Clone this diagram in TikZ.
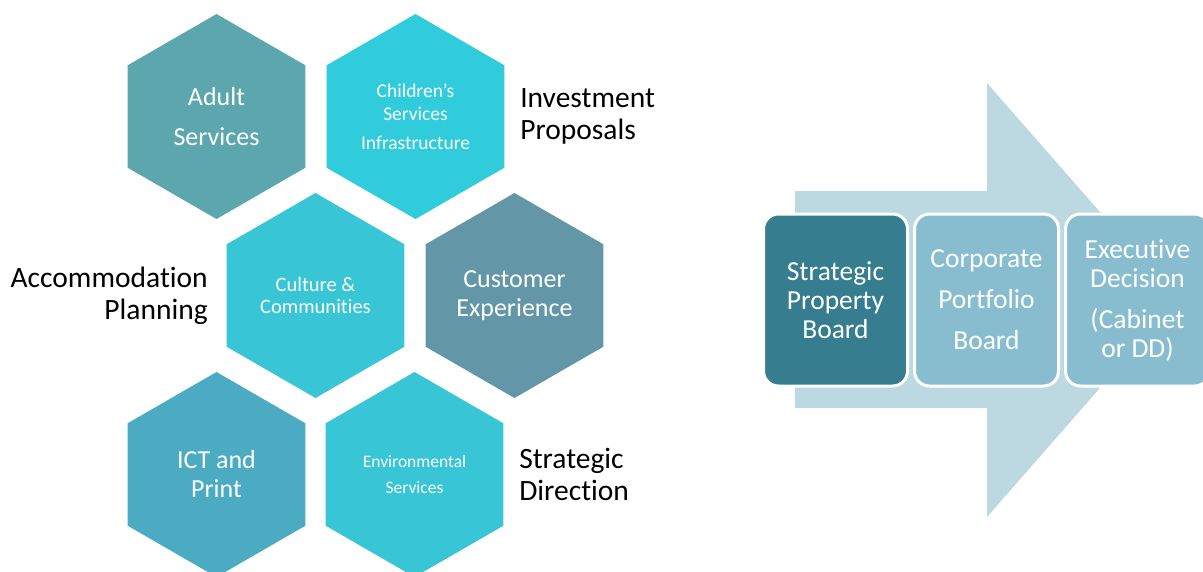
\documentclass[tikz,border=0pt]{standalone}
\usepackage{fontspec}
\setmainfont{Carlito}[Ligatures=NoCommon]
\usetikzlibrary{positioning,shapes.geometric}
\definecolor{adultc}{HTML}{5BA7AD}
\definecolor{childc}{HTML}{31CCDB}
\definecolor{culturec}{HTML}{38C5D5}
\definecolor{customc}{HTML}{6397A7}
\definecolor{ictc}{HTML}{4AABC2}
\definecolor{arrowc}{HTML}{BCD8E1}
\definecolor{spbc}{HTML}{367D8F}
\definecolor{cpbc}{HTML}{88BDD0}
\begin{document}
\begin{tikzpicture}
[x=1pt,y=-1pt,
 every node/.style={inner sep=0pt,outer sep=0pt,align=center},
 hex/.style={regular polygon,regular polygon sides=6,shape border rotate=30,minimum size=205pt,text=white,font=\fontsize{26}{29}\selectfont},
 tiny/.style={font=\fontsize{20}{22}\selectfont},
 lbl/.style={font=\fontsize{29.5}{32}\selectfont},
 board/.style={rectangle,rounded corners=15pt,draw=white,line width=3pt,minimum width=144pt,minimum height=172pt,text=white,font=\fontsize{27.5}{29}\selectfont}]
\path[use as bounding box] (0,0) rectangle (1203,571);
\node[hex,fill=adultc]   (adult)    at (216.5,116.5)                        {Adult\\[11pt]Services};
\node[hex,fill=childc,tiny,font=\fontsize{19.5}{23}\selectfont]
                         (children) [on grid,right=199pt of adult]          {Children's\\Services\\[6pt]Infrastructure};
\node[hex,fill=culturec,font=\fontsize{20.5}{22}\selectfont]
                         (culture)  [on grid,below right=179pt and 99pt of adult] {Culture \&\\Communities};
\node[hex,fill=customc]  (customer) [on grid,right=199pt of culture]        {Customer\\Experience};
\node[hex,fill=ictc]     (ict)      [on grid,below left=179pt and 99pt of culture] {ICT and\\Print};
\node[hex,fill=culturec,font=\fontsize{17.5}{26}\selectfont]
                         (environ)  [on grid,right=198pt of ict]            {Environmental\\Services};
\node[lbl,anchor=west,align=left]  (invest)   [right=16pt of children] {Investment\\Proposals};
\node[lbl,anchor=east,align=right] (accomm)   [left=19pt of culture]   {Accommodation\\Planning};
\node[lbl,anchor=west,align=left]  (strategy) [right=16pt of environ]  {Strategic\\Direction};
\fill[arrowc] (795,191) -- (987,191) -- (987,83) -- (1177,300) -- (987,517) -- (987,408) -- (795,408) -- cycle;
\node[board,fill=spbc] (spb)  at (835.5,300)                {Strategic\\Property\\Board};
\node[board,fill=cpbc] (cpb)  [on grid,right=151pt of spb]  {Corporate\\[12pt]Portfolio\\[12pt]Board};
\node[board,fill=cpbc] (exec) [on grid,right=151pt of cpb]  {Executive\\Decision\\[12pt](Cabinet\\or DD)};
\end{tikzpicture}
\end{document}
